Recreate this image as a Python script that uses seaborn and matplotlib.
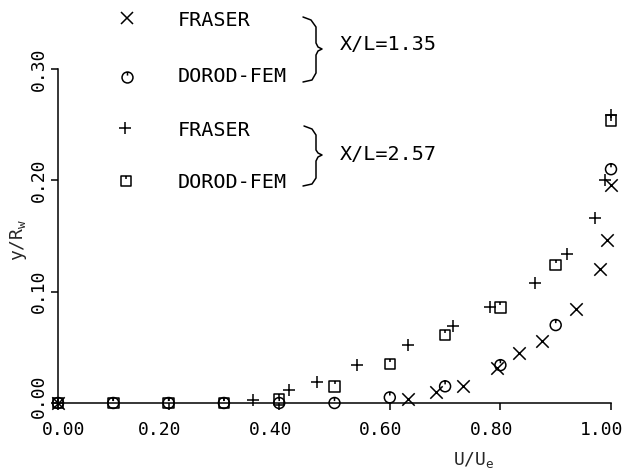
import numpy as np
import pandas as pd
import matplotlib
matplotlib.use("Agg")
import matplotlib.pyplot as plt
from matplotlib.path import Path
from matplotlib.lines import Line2D
from matplotlib.transforms import Affine2D, ScaledTranslation
import seaborn as sns

# ---------------------------------------------------------------------------
# Velocity profiles  y/Rw  versus  U/Ue
# ---------------------------------------------------------------------------
# FRASER measurements, X/L = 1.35
fraser_135_u = [0.0, 0.633, 0.683, 0.732, 0.793, 0.834, 0.875, 0.937, 0.981, 0.992, 1.0]
fraser_135_y = [0.0, 0.004, 0.010, 0.015, 0.031, 0.045, 0.056, 0.084, 0.120, 0.146, 0.196]

# DOROD-FEM solution, X/L = 1.35
fem_135_u = [0.0, 0.1, 0.2, 0.3, 0.4, 0.5, 0.6, 0.7, 0.8, 0.9, 1.0]
fem_135_y = [0.0, 0.0, 0.0, 0.0, 0.0, 0.0, 0.005, 0.015, 0.034, 0.070, 0.210]

# FRASER measurements, X/L = 2.57
fraser_257_u = [0.0, 0.353, 0.418, 0.469, 0.541, 0.633, 0.715, 0.781, 0.862, 0.920, 0.971, 0.990, 1.0]
fraser_257_y = [0.0, 0.003, 0.012, 0.019, 0.034, 0.052, 0.069, 0.086, 0.108, 0.134, 0.166, 0.200, 0.259]

# DOROD-FEM solution, X/L = 2.57
fem_257_u = [0.0, 0.1, 0.2, 0.3, 0.4, 0.5, 0.6, 0.7, 0.8, 0.9, 1.0]
fem_257_y = [0.0, 0.0, 0.0, 0.0, 0.003, 0.015, 0.035, 0.061, 0.086, 0.124, 0.254]

x_ticks = [0.0, 0.2, 0.4, 0.6, 0.8, 1.0]
y_ticks = [0.0, 0.1, 0.2, 0.3]

legend_labels = ["FRASER", "DOROD-FEM", "FRASER", "DOROD-FEM"]
station_labels = ["X/L=1.35", "X/L=2.57"]

# ---------------------------------------------------------------------------
sns.set_theme(style="ticks")
plt.rcParams["font.family"] = ["DejaVu Sans Mono", "DejaVu Sans"]
plt.rcParams["mathtext.default"] = "regular"
plt.rcParams["axes.edgecolor"] = "black"
plt.rcParams["text.color"] = "black"
plt.rcParams["xtick.color"] = "black"
plt.rcParams["ytick.color"] = "black"

W, H = 624, 475
fig = plt.figure(figsize=(W / 100, H / 100), dpi=100)
fig.patch.set_facecolor("white")
ax = fig.add_axes([58 / W, 1 - 403 / H, 553 / W, 334 / H])
ax.set_facecolor("white")

# plotter-style symbols: open circle / open square with a short tick from the top
tick = Path([[0.0, 1.0], [0.0, 0.35]], [Path.MOVETO, Path.LINETO])
circle_mark = Path.make_compound_path(Path.unit_circle(), tick)
square = Path([[-1, -1], [1, -1], [1, 1], [-1, 1], [-1, -1]],
              [Path.MOVETO, Path.LINETO, Path.LINETO, Path.LINETO, Path.CLOSEPOLY])
square_mark = Path.make_compound_path(square, tick)

LW = 1.1
series = [
    (fraser_135_u, fraser_135_y, "x", 80, False),
    (fem_135_u, fem_135_y, circle_mark, 62, True),
    (fraser_257_u, fraser_257_y, "+", 80, False),
    (fem_257_u, fem_257_y, square_mark, 58, True),
]

for u, y, mk, s, hollow in series:
    df = pd.DataFrame({"u": u, "y": y})
    kws = dict(marker=mk, s=s, color="black", linewidth=LW,
               clip_on=False, zorder=3, legend=False)
    if hollow:
        kws.update(facecolor="none", edgecolor="black")
    sns.scatterplot(data=df, x="u", y="y", ax=ax, **kws)

ax.set_xlim(0, 1.0)
ax.set_ylim(0, 0.30)
ax.set_xticks(x_ticks)
ax.set_xticklabels([f"{t:.2f}" for t in x_ticks])
ax.set_yticks(y_ticks)
ax.set_yticklabels([f"{t:.2f}" for t in y_ticks], rotation=90, va="center")
sns.despine(ax=ax)
for side in ("left", "bottom"):
    ax.spines[side].set_linewidth(1.1)
ax.tick_params(axis="both", direction="out", length=5, width=1.1, labelsize=13)
ax.tick_params(axis="x", pad=8)
ax.tick_params(axis="y", pad=2)
ax.grid(False)

# hand-lettered placement of the tick numbers: shifted slightly left of their ticks
for i, lab in enumerate(ax.get_xticklabels()):
    dx = 6 if i == 0 else -9
    lab.set_transform(lab.get_transform() + ScaledTranslation(dx / 100, 0, fig.dpi_scale_trans))
ylab0 = ax.get_yticklabels()[0]
ylab0.set_transform(ylab0.get_transform() + ScaledTranslation(0, 7 / 100, fig.dpi_scale_trans))

ax.set_xlabel("U/U$_e$", fontsize=13, va="top")
ax.xaxis.set_label_coords((474 - 58) / 553, -(450 - 403) / 334)
ax.set_ylabel("y/R$_w$", fontsize=13)
ax.yaxis.set_label_coords(-(58 - 29) / 553, (403 - 240) / 334)

# ---------------------------------------------------------------------------
# key in the upper left: symbols, source names, braces and stations
px = Affine2D().scale(1 / W, -1 / H).translate(0, 1) + fig.transFigure

key_marks = [("x", 80), (circle_mark, 62), ("+", 80), (square_mark, 58)]
key_rows = [(127, 18, 20), (127, 77, 77), (125, 128, 130), (126, 181, 183)]
for (mk, s), (mx, my, ty), lab in zip(key_marks, key_rows, legend_labels):
    fig.add_artist(Line2D([mx], [my], transform=px, marker=mk, markersize=np.sqrt(s),
                          markerfacecolor="none", markeredgecolor="black",
                          markeredgewidth=LW, linestyle="none"))
    fig.text(178 / W, 1 - ty / H, lab, fontsize=14.5, va="center", ha="left")

brace_a = [(303, 17), (311, 20), (316, 27), (316, 43), (318, 47), (322, 49),
           (318, 51), (316, 55), (316, 73), (312, 80), (303, 82)]
brace_b = [(304, 126), (312, 129), (316, 135), (316, 150), (318, 153), (322, 155),
           (318, 157), (316, 161), (316, 178), (312, 184), (303, 186)]
for pts in (brace_a, brace_b):
    xs, ys = zip(*pts)
    fig.add_artist(Line2D(xs, ys, transform=px, color="black", linewidth=1.1))

fig.text(340 / W, 1 - 44 / H, station_labels[0], fontsize=14.5, va="center", ha="left")
fig.text(340 / W, 1 - 154 / H, station_labels[1], fontsize=14.5, va="center", ha="left")

fig.savefig("out.png", dpi=100, facecolor="white")
